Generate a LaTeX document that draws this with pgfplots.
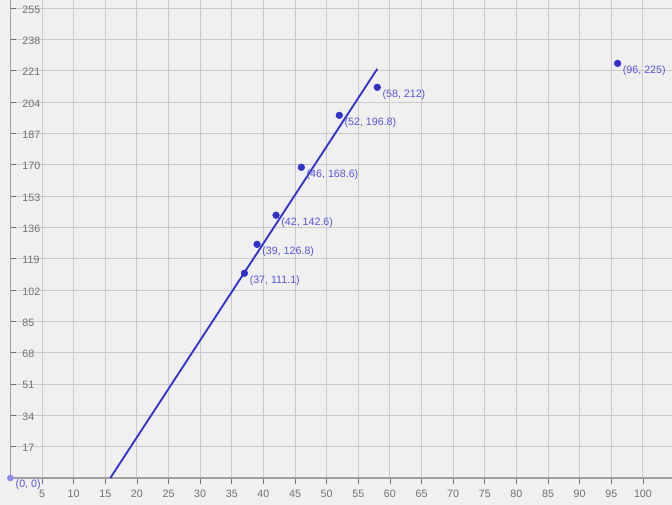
\documentclass[border=0pt]{standalone}
\usepackage{pgfplots}
\pgfplotsset{compat=1.18}
\usepackage{fontspec}
\setmainfont{Liberation Sans}
\definecolor{bgc}{HTML}{F0F0F0}
\definecolor{gridc}{HTML}{CACACA}
\definecolor{axc}{HTML}{A0A0A0}
\definecolor{tlc}{HTML}{707070}
\definecolor{ptc}{HTML}{3232C8}
\definecolor{lnc}{HTML}{3434CC}
\definecolor{lbc}{HTML}{5656DA}
\definecolor{zc}{HTML}{8C8CEE}
\begin{document}
\begin{tikzpicture}
\path[use as bounding box, fill=bgc] (-7.8pt,-20.25pt) rectangle (496.2pt,358.5pt);
\begin{axis}[
  scale only axis,
  width=496.2pt, height=358.5pt,
  xmin=0, xmax=104.6, ymin=0, ymax=259.4,
  axis x line=bottom, axis y line=left,
  axis line style={-, draw=axc, line width=1.3pt},
  xtick={5,10,...,100},
  ytick={17,34,...,255},
  grid=major,
  major grid style={draw=gridc, line width=0.75pt},
  tick align=inside,
  major tick length=4.5pt,
  major tick style={draw=tlc, line width=0.6pt},
  major x tick style={yshift=-4.5pt},
  tick label style={font=\fontsize{8}{9}\selectfont, text=tlc},
  /pgf/number format/assume math mode=true,
  yticklabel style={anchor=west, xshift=5.5pt, yshift=-1pt},
  xticklabel style={yshift=-5.5pt},
  clip=false,
]
\addplot[lnc, line width=1.4pt] coordinates {(15.8,0) (58,222)};
\addplot[only marks, mark=*, mark size=2.5pt, mark options={fill=ptc, draw=ptc},
  nodes near coords, point meta=explicit symbolic,
  every node near coord/.style={anchor=west, inner sep=0pt, xshift=3.8pt, yshift=-5.3pt,
    font=\fontsize{8}{9}\selectfont, text=lbc}]
  table[col sep=semicolon, meta=label] {
x;y;label
37;111.1;(37, 111.1)
39;126.8;(39, 126.8)
42;142.6;(42, 142.6)
46;168.6;(46, 168.6)
52;196.8;(52, 196.8)
58;212;(58, 212)
96;225;(96, 225)
};
\addplot[only marks, mark=*, mark size=2.3pt, mark options={fill=zc, draw=zc},
  nodes near coords, point meta=explicit symbolic,
  every node near coord/.style={anchor=west, inner sep=0pt, xshift=3.8pt, yshift=-5.3pt,
    font=\fontsize{8}{9}\selectfont, text=lbc}]
  table[col sep=semicolon, meta=label] {
x;y;label
0;0;(0, 0)
};
\end{axis}
\end{tikzpicture}
\end{document}
